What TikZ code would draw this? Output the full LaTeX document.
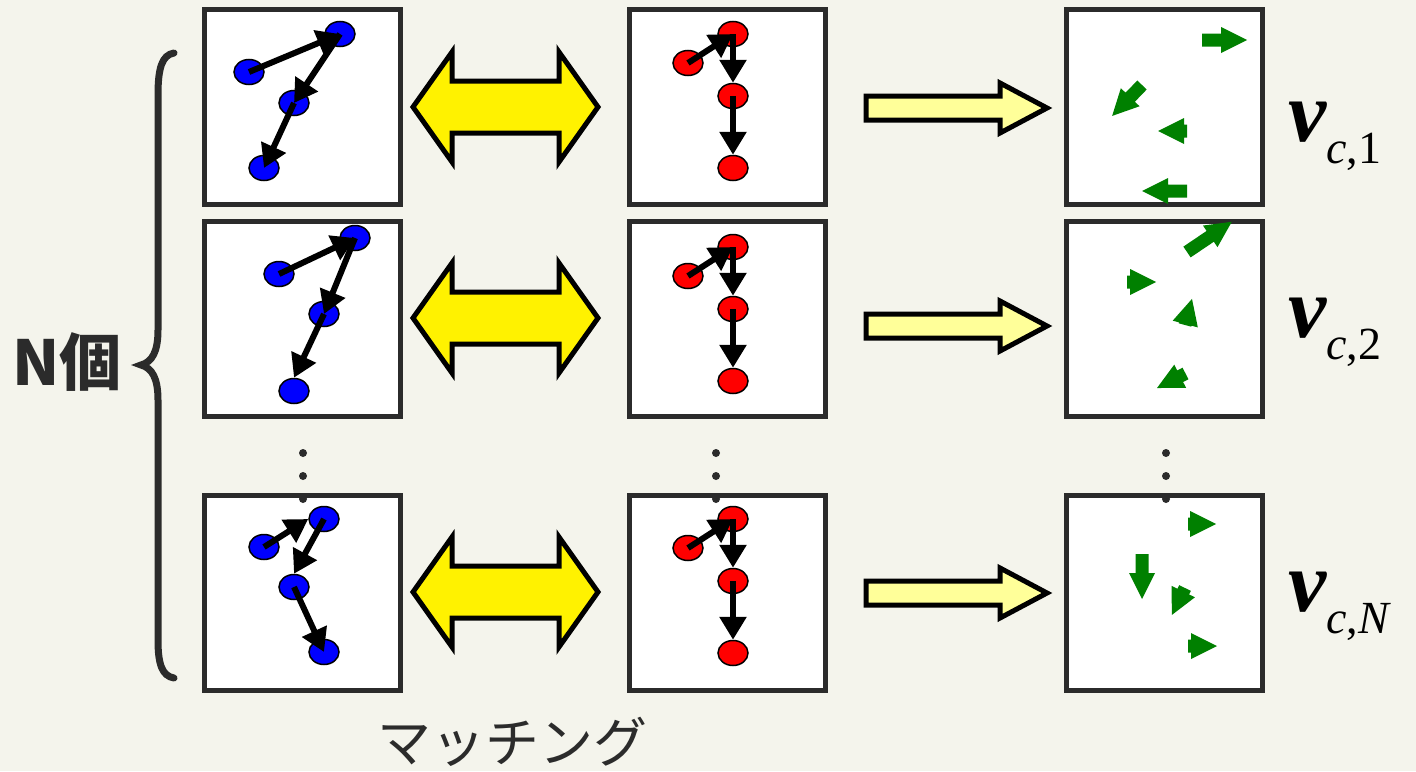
\documentclass[tikz,border=0pt]{standalone}
\usepackage{fontspec}
\usetikzlibrary{shapes.geometric,arrows.meta}
\newfontfamily\jpfont{Noto Sans CJK JP}
\newfontfamily\tnr{Liberation Serif}
\definecolor{paper}{RGB}{244,244,236}
\definecolor{framegray}{RGB}{43,43,43}
\definecolor{vecgreen}{RGB}{0,128,0}
\definecolor{paleyellow}{RGB}{255,255,153}
% fat green vector: tail x, tail y, angle, length
\newcommand{\vecarrow}[4]{%
  \fill[vecgreen, shift={(#1,#2)}, rotate=#3] (0,-6.5) -- ({#4-26},-6.5) -- ({#4-26},-13) -- (#4,0) -- ({#4-26},13) -- ({#4-26},6.5) -- (0,6.5) -- cycle;}
% label v_{c,k}
\newcommand{\vlabel}[1]{{\tnr\fontsize{86}{86}\selectfont\bfseries\itshape v}\raisebox{-22pt}{\tnr\fontsize{46}{46}\selectfont\itshape c\upshape ,#1}}
\begin{document}
\begin{tikzpicture}[x=1pt, y=-1pt,
    panel/.style={draw=framegray, fill=white, line width=5pt, minimum width=196pt, minimum height=195pt, inner sep=0},
    bnode/.style={ellipse, draw=black, fill=blue, line width=1.5pt, minimum width=30pt, minimum height=25pt, inner sep=0},
    rnode/.style={bnode, fill=red},
    link/.style={line width=6pt, -{Triangle[length=23pt,width=26pt]}},
    match/.style={draw=black, fill=yellow, line width=5pt, miter limit=20},
    flow/.style={draw=black, fill=paleyellow, line width=5pt, miter limit=20}]
\useasboundingbox (0,0) rectangle (1416,771);
\fill[paper] (0,0) rectangle (1416,771);

\node[panel] (pa1) at (302.5, 106.5) {};
\node[panel] (pb1) at (727, 106.5) {};
\node[panel] (pc1) at (1164, 106.5) {};

\node[panel] (pa2) at (302.5, 319) {};
\node[panel] (pb2) at (727, 319) {};
\node[panel] (pc2) at (1164, 319) {};

\node[panel] (pa3) at (302.5, 592.5) {};
\node[panel] (pb3) at (727, 592.5) {};
\node[panel] (pc3) at (1164, 592.5) {};

% blue graphs
\node[bnode] (b11) at (249, 72) {};
\node[bnode] (b12) at (340, 34) {};
\node[bnode] (b13) at (294, 103) {};
\node[bnode] (b14) at (264, 168) {};

\node[bnode] (b21) at (279, 274) {};
\node[bnode] (b22) at (355, 238) {};
\node[bnode] (b23) at (324, 314) {};
\node[bnode] (b24) at (294, 391) {};

\node[bnode] (b31) at (264, 547) {};
\node[bnode] (b32) at (324, 519) {};
\node[bnode] (b33) at (294, 587) {};
\node[bnode] (b34) at (324, 652) {};

\draw[link] (b11.center) -- (b12.center);
\draw[link] (b12.center) -- (b13.center);
\draw[link] (b13.center) -- (b14.center);

\draw[link] (b21.center) -- (b22.center);
\draw[link] (b22.center) -- (b23.center);
\draw[link] (b23.center) -- (b24.north);

\draw[link] (b31.center) -- (b32.west);
\draw[link] (b32.center) -- (b33.north);
\draw[link] (b33.center) -- (b34.center);

% red graphs
\foreach \row/\y in {1/0, 2/213, 3/485} {
  \node[rnode] (r\row1) at (688, 63+\y) {};
  \node[rnode] (r\row2) at (733, 34+\y) {};
  \node[rnode] (r\row3) at (733, 96+\y) {};
  \node[rnode] (r\row4) at (733, 168+\y) {};
  \draw[link] (r\row1.center) -- (r\row2.center);
  \draw[link] (r\row2.center) -- (r\row3.north);
  \draw[link] (r\row3.center) -- (r\row4.north);
}

% matching and flow arrows
\foreach \y/\f in {107/108, 318/326, 592/593} {
  \draw[match] (413,\y) -- (452,\y-55) -- (452,\y-26) -- (559,\y-26) -- (559,\y-55)
    -- (598,\y) -- (559,\y+55) -- (559,\y+26) -- (452,\y+26) -- (452,\y+55) -- cycle;
  \draw[flow] (866,\f-12) -- (1000,\f-12) -- (1000,\f-25) -- (1047,\f)
    -- (1000,\f+25) -- (1000,\f+12) -- (866,\f+12) -- cycle;
}

% green vectors
\vecarrow{1202}{40}{0}{45}
\vecarrow{1142}{85}{226}{43}
\vecarrow{1187}{131}{180}{29}
\vecarrow{1187}{191}{180}{45}

\vecarrow{1187}{252}{34}{54}
\vecarrow{1127}{282}{0}{29}
\vecarrow{1185}{325}{75}{27}
\vecarrow{1185.5}{373.5}{207}{32}

\vecarrow{1188}{524}{0}{28}
\vecarrow{1142}{554}{270}{45}
\vecarrow{1185}{588}{244}{30}
\vecarrow{1188}{646}{0}{29}

% vertical dots
\foreach \x in {303, 716, 1166}
  \foreach \y in {453, 476, 499}
    \fill[framegray] (\x,\y) circle (4);

% brace
\draw[framegray, line width=7pt, line cap=round] (174,53) .. controls (162,55) and (158,68) .. (158,95)
  -- (158,330) .. controls (158,352) and (152,362) .. (141,365)
  .. controls (152,368) and (158,378) .. (158,400)
  -- (158,640) .. controls (158,664) and (162,676) .. (174,678);

\node[anchor=west, inner sep=0, text=framegray] (count) at (12,362)
  {\jpfont\bfseries\fontsize{62}{62}\selectfont N個};
\node[inner sep=0, text=framegray] (matching) at (512,742)
  {\jpfont\fontsize{54}{54}\selectfont マッチング};

\node[anchor=base west, inner sep=0] (v1) at (1288,141) {\vlabel{1}};
\node[anchor=base west, inner sep=0] (v2) at (1288,337) {\vlabel{2}};
\node[anchor=base west, inner sep=0] (vN) at (1288,611) {\vlabel{\itshape N}};
\end{tikzpicture}
\end{document}
